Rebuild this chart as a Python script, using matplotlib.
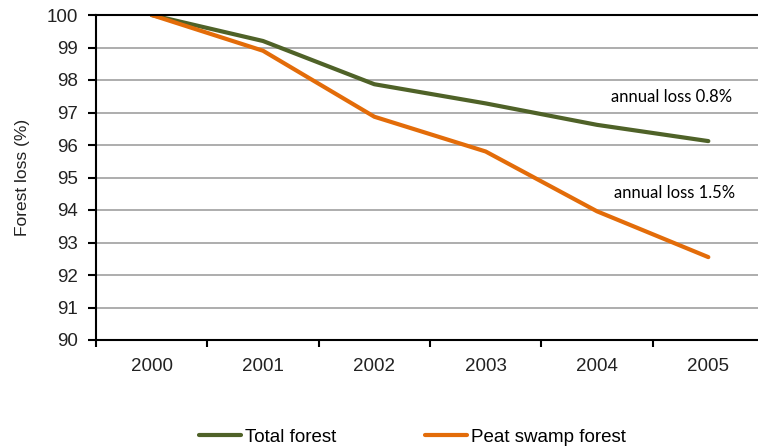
import matplotlib
matplotlib.use("Agg")
import matplotlib.pyplot as plt
import numpy as np

years = ["2000", "2001", "2002", "2003", "2004", "2005"]
total_forest = [100.0, 99.2, 97.87, 97.28, 96.62, 96.12]
peat_swamp = [100.0, 98.9, 96.87, 95.8, 93.96, 92.55]
y_ticks = list(range(90, 101))

green = "#4F6228"
orange = "#E36C09"
plt.rcParams["font.family"] = ["Liberation Sans", "DejaVu Sans"]

fig = plt.figure(figsize=(7.58, 4.47), dpi=100)
ax = fig.add_axes([96 / 758, 107 / 447, 668 / 758, 325 / 447])

x = np.arange(len(years))
ax.plot(x, total_forest, color=green, lw=3, label="Total forest", solid_capstyle="round")
ax.plot(x, peat_swamp, color=orange, lw=3, label="Peat swamp forest", solid_capstyle="round")

ax.set_xlim(-0.5, len(years) - 0.5)
ax.set_ylim(90, 100)
ax.set_yticks(y_ticks)
ax.set_xticks(x)
ax.set_xticklabels(years)
ax.set_xticks(np.arange(-0.5, len(years)), minor=True)
ax.tick_params(axis="x", which="major", length=0, pad=13, labelsize=13.5)
ax.tick_params(axis="x", which="minor", length=5, width=1.5, direction="out")
ax.tick_params(axis="y", length=6, width=1.5, direction="out", labelsize=13.5, pad=7)
ax.tick_params(axis="both", colors="black", labelcolor="#222222")

ax.grid(axis="y", color="#A0A0A0", lw=1.2)
ax.set_axisbelow(True)
for side in ["left", "bottom", "top"]:
    ax.spines[side].set_linewidth(1.5)
    ax.spines[side].set_color("black")
ax.spines["right"].set_visible(False)

ax.set_ylabel("Forest loss (%)", fontsize=12.5, color="#222222", labelpad=12)

box = dict(facecolor="white", edgecolor="none", pad=2)
ax.text(4.67, 97.48, "annual loss 0.8%", fontsize=12, family=["Lato", "DejaVu Sans"],
        ha="center", va="center", bbox=box)
ax.text(4.70, 94.52, "annual loss 1.5%", fontsize=12, family=["Lato", "DejaVu Sans"],
        ha="center", va="center", bbox=box)

fig.legend(loc="center", bbox_to_anchor=(0.544, 0.022), ncol=2, frameon=False,
           fontsize=13.5, handlelength=2.25, handletextpad=0.2, columnspacing=4.75)

fig.savefig("out.png", dpi=100)
